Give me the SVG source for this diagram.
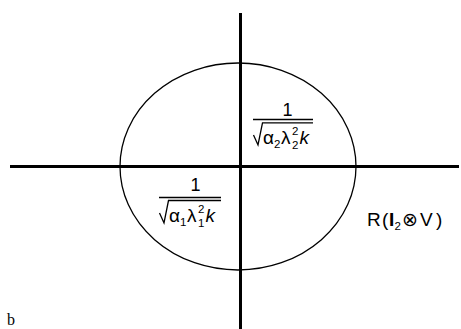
<svg xmlns="http://www.w3.org/2000/svg" width="461" height="329" viewBox="0 0 461 329">
<style>
.ax{stroke:#000;stroke-width:3;fill:none}
.thin{stroke:#000;stroke-width:1.3;fill:none}
.sans{font-family:"Liberation Sans",Arial,sans-serif;fill:#000}
.serif{font-family:"Liberation Serif","Times New Roman",serif;fill:#000}
.m{font-size:19px}
.one{font-size:18px}
.s{font-size:11.5px}
.it{font-style:italic}
</style>
<rect width="461" height="329" fill="#fff"/>
<g id="ellipse"><ellipse class="thin" cx="238" cy="166.5" rx="118" ry="103.5"/></g>
<g id="axes">
<line class="ax" x1="10" y1="166.5" x2="459" y2="166.5"/>
<line class="ax" x1="240.5" y1="13" x2="240.5" y2="329"/>
</g>
<g id="label-top" class="sans">
<text class="one" x="287.5" y="115.5" text-anchor="middle">1</text>
<line class="thin" x1="253" y1="119.5" x2="313" y2="119.5"/>
<path class="thin" d="M253.5,135 L258,145 L262.5,122.8 L313,122.8"/>
<text class="m" x="263" y="144">α</text>
<text class="s" x="274" y="148">2</text>
<text class="m" x="281" y="144">λ</text>
<text class="s" x="292" y="135">2</text>
<text class="s" x="292" y="148.5">2</text>
<text class="m it" x="299.5" y="144">k</text>
</g>
<g id="label-bottom" class="sans">
<text class="one" x="195.5" y="190.5" text-anchor="middle">1</text>
<line class="thin" x1="159" y1="197.5" x2="221" y2="197.5"/>
<path class="thin" d="M159.5,213 L164,223 L168.5,200.5 L221,200.5"/>
<text class="m" x="169" y="222">α</text>
<text class="s" x="180" y="226">1</text>
<text class="m" x="187" y="222">λ</text>
<text class="s" x="198" y="213">2</text>
<text class="s" x="198" y="226.5">1</text>
<text class="m it" x="205.5" y="222">k</text>
</g>
<g id="label-R" class="sans">
<text class="m" x="367" y="226">R</text>
<text class="m" x="382" y="226">(</text>
<text class="m" x="389" y="226" font-weight="bold">I</text>
<text class="s" x="394.5" y="230">2</text>
<text class="m" x="402" y="226">⊗</text>
<text class="m" x="420" y="226">V</text>
<text class="m" x="436" y="226">)</text>
</g>
<g id="label-b">
<text class="serif" x="7" y="325" font-size="16">b</text>
</g>
</svg>
